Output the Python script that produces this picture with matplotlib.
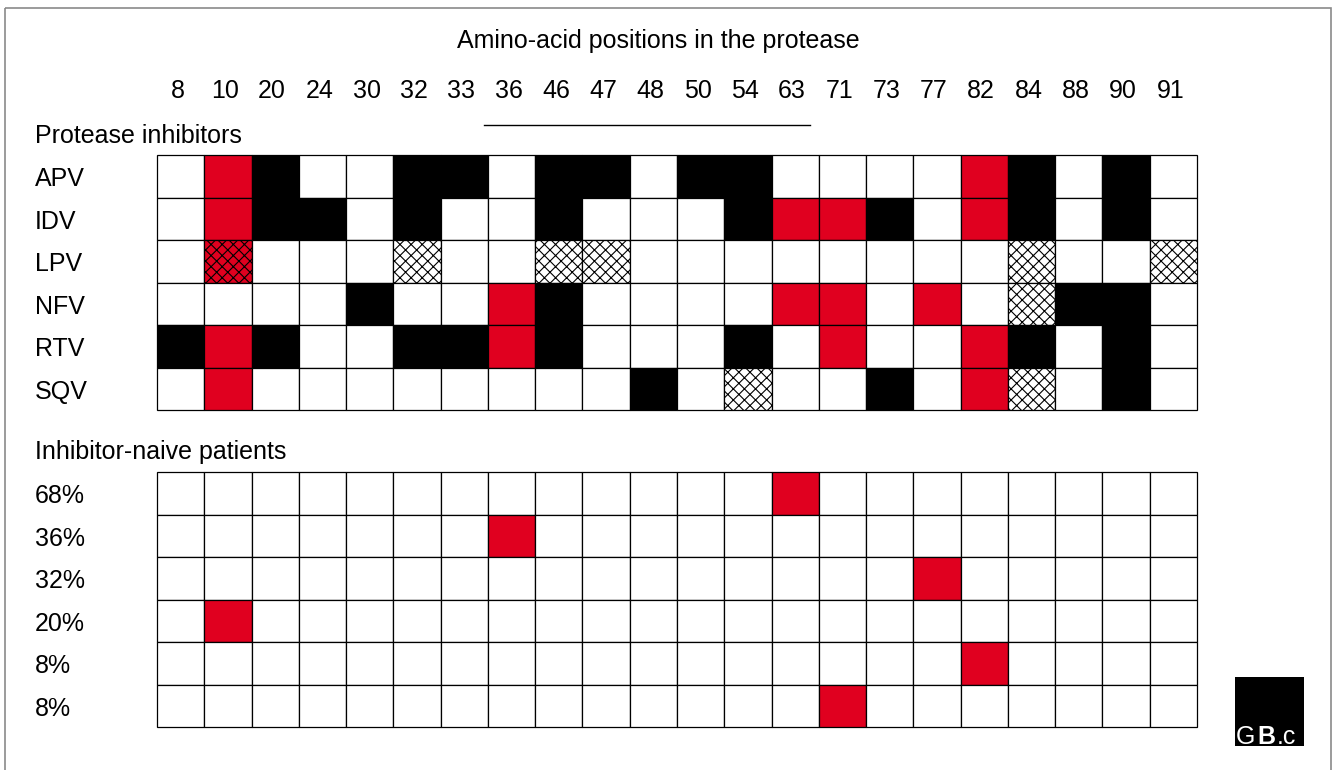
import matplotlib.pyplot as plt
from matplotlib.patches import Rectangle

plt.rcParams['font.family'] = ['Liberation Sans', 'DejaVu Sans']
plt.rcParams['hatch.linewidth'] = 0.8

# amino-acid positions (columns)
positions = [8, 10, 20, 24, 30, 32, 33, 36, 46, 47, 48, 50, 54, 63, 71, 73, 77, 82, 84, 88, 90, 91]

# 0 = none, 1 = black, 2 = red, 3 = hatched, 4 = hatched red
inhibitors = ['APV', 'IDV', 'LPV', 'NFV', 'RTV', 'SQV']
inhibitor_codes = [
    [0, 2, 1, 0, 0, 1, 1, 0, 1, 1, 0, 1, 1, 0, 0, 0, 0, 2, 1, 0, 1, 0],
    [0, 2, 1, 1, 0, 1, 0, 0, 1, 0, 0, 0, 1, 2, 2, 1, 0, 2, 1, 0, 1, 0],
    [0, 4, 0, 0, 0, 3, 0, 0, 3, 3, 0, 0, 0, 0, 0, 0, 0, 0, 3, 0, 0, 3],
    [0, 0, 0, 0, 1, 0, 0, 2, 1, 0, 0, 0, 0, 2, 2, 0, 2, 0, 3, 1, 1, 0],
    [1, 2, 1, 0, 0, 1, 1, 2, 1, 0, 0, 0, 1, 0, 2, 0, 0, 2, 1, 0, 1, 0],
    [0, 2, 0, 0, 0, 0, 0, 0, 0, 0, 1, 0, 3, 0, 0, 1, 0, 2, 3, 0, 1, 0],
]

# inhibitor-naive patients: share and the position that is mutated
naive_labels = ['68%', '36%', '32%', '20%', '8%', '8%']
naive_positions = [63, 36, 77, 10, 82, 71]

RED = '#e0001f'
FS = 18

fig = plt.figure(figsize=(13.35, 7.7), dpi=100)
ax = fig.add_axes([0, 0, 1, 1])
ax.set_xlim(0, 1335)
ax.set_ylim(770, 0)
ax.axis('off')

x0, cw = 157, (1197 - 157) / 22
rh = (410 - 155) / 6


def draw_cell(x, y, code):
    face = {0: 'white', 1: 'black', 2: RED, 3: 'white', 4: RED}[code]
    hatch = 'xxx' if code in (3, 4) else None
    ax.add_patch(Rectangle((x, y), cw, rh, facecolor=face, edgecolor='black',
                           lw=0.9, hatch=hatch))


def draw_grid(top, codes, labels):
    for r, row in enumerate(codes):
        y = top + r * rh
        for c, code in enumerate(row):
            draw_cell(x0 + c * cw, y, code)
        ax.text(35, y + rh / 2 + 3, labels[r], fontsize=FS, va='center', ha='left')


# frame
ax.add_patch(Rectangle((5, 8), 1326, 800, facecolor='none', edgecolor='#8a8a8a', lw=1.2))

ax.text(658, 41, 'Amino-acid positions in the protease', fontsize=FS, ha='center', va='center')
for c, p in enumerate(positions):
    ax.text(x0 + (c + 0.5) * cw - 3, 91, str(p), fontsize=FS, ha='center', va='center')
ax.plot([484, 810], [125, 125], color='black', lw=1)

ax.text(35, 136, 'Protease inhibitors', fontsize=FS, ha='left', va='center')
draw_grid(155, inhibitor_codes, inhibitors)

naive_codes = [[2 if p == np_ else 0 for p in positions] for np_ in naive_positions]
ax.text(35, 452, 'Inhibitor-naive patients', fontsize=FS, ha='left', va='center')
draw_grid(472, naive_codes, naive_labels)

# logo
ax.add_patch(Rectangle((1235, 677), 69, 69, facecolor='black', edgecolor='none'))
ax.text(1236, 744, 'G', color='white', fontsize=18, ha='left', va='baseline')
ax.text(1257, 744, 'B', color='white', fontsize=18, ha='left', va='baseline', fontweight='bold')
ax.text(1277, 744, '.c', color='white', fontsize=18, ha='left', va='baseline')

fig.savefig('out.png', dpi=100)
